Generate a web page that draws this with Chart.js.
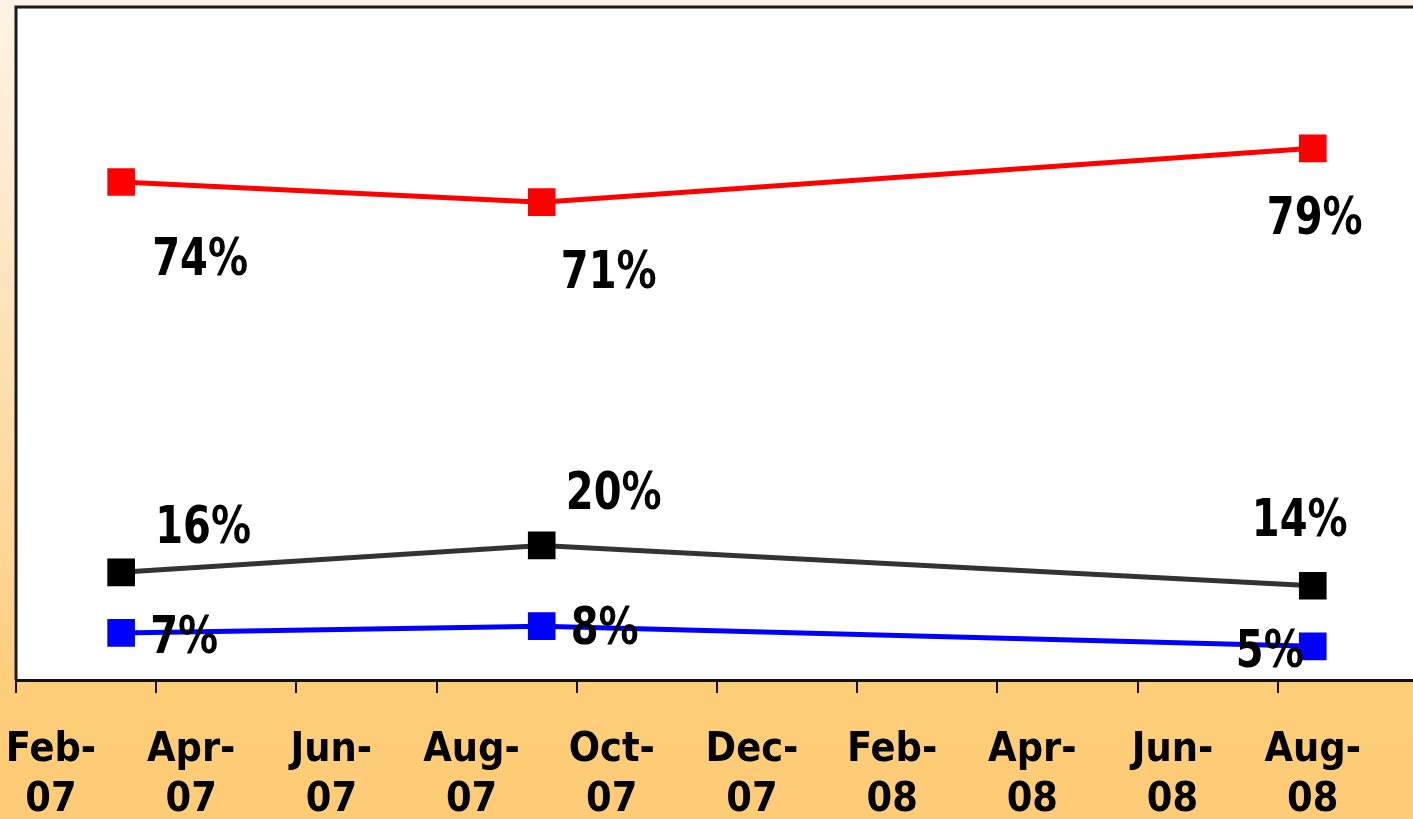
<!DOCTYPE html>
<html>
<head>
<meta charset="utf-8">
<script src="https://cdn.jsdelivr.net/npm/chart.js@4/dist/chart.umd.min.js"></script>
<style>
  html, body { margin: 0; padding: 0; overflow: hidden; }
  body {
    width: 1413px; height: 819px;
    background: linear-gradient(to bottom, #FEF3E6 0px, #FEE9CC 200px, #FEDDAC 400px, #FED38F 600px, #FECD78 690px, #FECC76 819px);
  }
  #wrap { position: absolute; left: 0; top: 0; width: 1413px; height: 819px; }
</style>
</head>
<body>
<div id="wrap"><canvas id="c" width="1413" height="819"></canvas></div>
<script>
// ---- data ----
const dates = ['Mar-07', 'Sep-07', 'Aug-08'];
const redSeries = [74, 71, 79];
const blackSeries = [16, 20, 14];
const blueSeries = [7, 8, 5];
const tickLabels = ['Feb-07', 'Apr-07', 'Jun-07', 'Aug-07', 'Oct-07', 'Dec-07', 'Feb-08', 'Apr-08', 'Jun-08', 'Aug-08'];

// ---- helpers ----
const MONTHS = ['Jan','Feb','Mar','Apr','May','Jun','Jul','Aug','Sep','Oct','Nov','Dec'];
function monthNum(s) { const [m, y] = s.split('-'); return (2000 + Number(y)) * 12 + MONTHS.indexOf(m); }
const base = monthNum(tickLabels[0]);
const xs = dates.map(d => monthNum(d) - base + 0.5); // points sit mid-month
const tickValues = tickLabels.map(t => monthNum(t) - base);
function pts(vals) { return vals.map((v, i) => ({ x: xs[i], y: v })); }

const bgPlugin = {
  id: 'plotBg',
  beforeDraw(chart) {
    const { ctx, chartArea: a } = chart;
    ctx.save();
    ctx.fillStyle = '#FFFFFF';
    ctx.fillRect(a.left, a.top, a.right - a.left + 10, a.bottom - a.top);
    ctx.restore();
  },
  afterDraw(chart) {
    const { ctx, chartArea: a } = chart;
    ctx.save();
    ctx.strokeStyle = '#1a1a1a';
    ctx.lineWidth = 3;
    ctx.beginPath();
    ctx.moveTo(a.left, a.bottom);
    ctx.lineTo(a.left, a.top);
    ctx.lineTo(a.right + 10, a.top);
    ctx.stroke();
    ctx.restore();
  }
};

const labelPlugin = {
  id: 'valueLabels',
  afterDatasetsDraw(chart) {
    const ctx = chart.ctx;
    chart.data.datasets.forEach((ds, di) => {
      const meta = chart.getDatasetMeta(di);
      meta.data.forEach((el, i) => {
        const off = ds.labelOffsets[i];
        const txt = ds.data[i].y + '%';
        ctx.save();
        ctx.font = 'bold 52px "DejaVu Sans", sans-serif';
        ctx.fillStyle = '#000000';
        ctx.textAlign = 'center';
        ctx.textBaseline = 'alphabetic';
        ctx.translate(el.x + off[0], el.y + off[1] + 19);
        ctx.scale(0.77, 1);
        ctx.fillText(txt, 0, 0);
        ctx.restore();
      });
    });
  }
};

const common = { borderWidth: 5, pointStyle: 'rect', pointRadius: 16, pointHoverRadius: 16, tension: 0, fill: false };

new Chart(document.getElementById('c'), {
  type: 'line',
  data: {
    datasets: [
      Object.assign({ label: 'Red', data: pts(redSeries), borderColor: '#FF0000', backgroundColor: '#FF0000', pointBorderColor: '#FF0000', pointBackgroundColor: '#FF0000',
        labelOffsets: [[79, 74], [67, 67], [2, 67]] }, common),
      Object.assign({ label: 'Black', data: pts(blackSeries), borderColor: '#333333', backgroundColor: '#000000', pointBorderColor: '#000000', pointBackgroundColor: '#000000',
        labelOffsets: [[82, -48], [72, -55], [-13, -69]] }, common),
      Object.assign({ label: 'Blue', data: pts(blueSeries), borderColor: '#0000FF', backgroundColor: '#0000FF', pointBorderColor: '#0000FF', pointBackgroundColor: '#0000FF',
        labelOffsets: [[63, 1], [63, -1], [-43, 2]] }, common)
    ]
  },
  options: {
    responsive: false,
    animation: false,
    events: [],
    layout: { autoPadding: false, padding: { left: 16, top: 7, right: 0, bottom: 0 } },
    plugins: { legend: { display: false }, tooltip: { enabled: false } },
    scales: {
      x: {
        type: 'linear',
        min: 0,
        max: 19.93,
        afterBuildTicks(scale) {
          scale.ticks = tickValues.map(v => ({ value: v }));
        },
        afterFit(scale) {
          scale.height = 139;
          scale.paddingLeft = 0; scale.paddingRight = 0;
          scale.paddingTop = 0; scale.paddingBottom = 0;
        },
        grid: { display: true, drawOnChartArea: false, drawTicks: true, tickLength: 13, color: '#111111', lineWidth: 2 },
        border: { display: true, color: '#111111', width: 3 },
        ticks: {
          autoSkip: false,
          maxRotation: 0,
          padding: 32,
          labelOffset: 35,
          color: '#000000',
          font: { family: '"DejaVu Sans Condensed", sans-serif', size: 41, weight: 'bold', lineHeight: '50px' },
          callback(value) {
            const idx = tickValues.indexOf(value);
            if (idx < 0) return '';
            const [m, y] = tickLabels[idx].split('-');
            return [m + '-', y];
          }
        }
      },
      y: {
        display: false,
        min: 0,
        max: 100
      }
    }
  },
  plugins: [bgPlugin, labelPlugin]
});
</script>
</body>
</html>
